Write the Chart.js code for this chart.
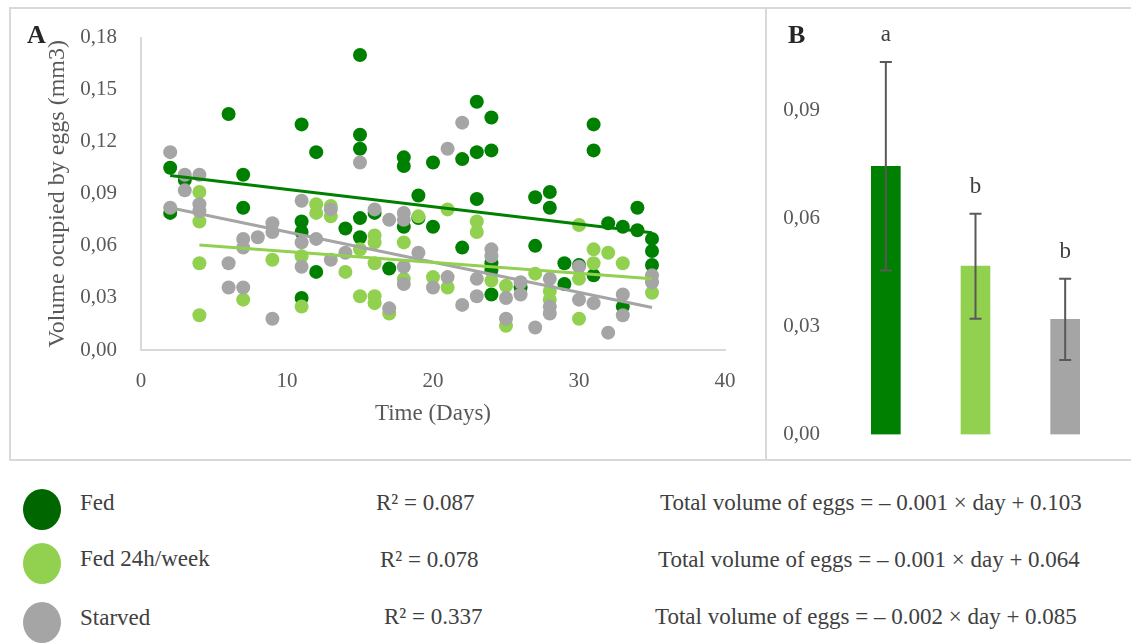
<!DOCTYPE html>
<html lang="en">
<head>
<meta charset="UTF-8">
<title>Volume occupied by eggs</title>
<script src="https://cdn.jsdelivr.net/npm/chart.js"></script>
<style>
* { margin: 0; padding: 0; box-sizing: border-box; }
body {
	width: 1131px; height: 643px; position: relative; overflow: hidden;
	background: #fff; font-family: 'Liberation Serif', 'DejaVu Serif', serif; color: #262626;
}
.panel { position: absolute; border: 2px solid #d9d9d9; }
#panelA { left: 9px; top: 7px; width: 758px; height: 454px; }
#panelB { left: 765px; top: 7px; width: 400px; height: 454px; }
canvas { position: absolute; }
.tag { position: absolute; font-weight: bold; font-size: 26px; line-height: 1; color: #262626; }
.dot { position: absolute; width: 38px; height: 41px; border-radius: 50%; }
.leg { position: absolute; font-size: 23px; line-height: 1; white-space: nowrap; color: #404040; }
</style>
</head>
<body>
<div class="panel" id="panelA"></div>
<div class="panel" id="panelB"></div>
<canvas id="chartA" width="756" height="451" style="left:10px;top:9px"></canvas>
<canvas id="chartB" width="365" height="451" style="left:766px;top:9px"></canvas>
<div class="tag" style="left:27px;top:22px">A</div>
<div class="tag" style="left:788px;top:22px">B</div>

<div class="dot" style="left:23px;top:489px;background:#006600"></div>
<div class="dot" style="left:23px;top:543px;background:#92d050"></div>
<div class="dot" style="left:23px;top:602px;background:#a5a5a5"></div>
<div class="leg" style="left:80px;top:491px">Fed</div>
<div class="leg" style="left:80px;top:547px">Fed 24h/week</div>
<div class="leg" style="left:80px;top:606px">Starved</div>
<div class="leg" style="left:376px;top:491px">R² = 0.087</div>
<div class="leg" style="left:380px;top:548px">R² = 0.078</div>
<div class="leg" style="left:384px;top:605px">R² = 0.337</div>
<div class="leg" style="left:660px;top:491px">Total volume of eggs = – 0.001 × day + 0.103</div>
<div class="leg" style="left:658px;top:548px">Total volume of eggs = – 0.001 × day + 0.064</div>
<div class="leg" style="left:655px;top:605px">Total volume of eggs = – 0.002 × day + 0.085</div>

<script>
// Panel A - egg volume per female over time
const fedDays = [2,2,3,6,7,7,11,11,11,11,12,12,14,15,15,15,15,15,16,17,18,18,18,19,19,20,20,22,22,23,23,23,24,24,24,24,24,26,27,27,28,28,29,29,30,31,31,31,32,33,33,34,34,35,35,35];
const fedVol = [.105,.079,.098,.136,.101,.082,.130,.074,.068,.030,.114,.045,.070,.170,.124,.116,.076,.065,.079,.047,.111,.106,.071,.089,.076,.108,.071,.110,.059,.143,.114,.087,.134,.115,.050,.046,.032,.036,.088,.060,.091,.082,.050,.038,.049,.130,.115,.043,.073,.071,.025,.082,.069,.064,.057,.049];

const weekDays = [4,4,4,4,7,9,11,11,12,12,13,13,14,15,15,16,16,16,16,16,17,18,18,19,20,21,21,23,23,24,25,25,27,28,28,30,30,30,31,31,32,33,35];
const weekVol = [.091,.074,.050,.020,.029,.052,.054,.025,.084,.079,.083,.077,.045,.058,.031,.066,.062,.050,.031,.027,.021,.062,.041,.077,.042,.081,.036,.074,.068,.040,.037,.014,.044,.034,.029,.072,.041,.018,.058,.050,.056,.050,.033];

const starvedDays = [2,2,3,3,4,4,4,6,6,7,7,7,8,9,9,9,11,11,11,12,13,13,14,15,16,17,17,18,18,18,18,19,20,21,21,22,22,23,23,24,24,25,25,26,26,27,28,28,28,30,30,31,32,33,33,35,35];
const starvedVol = [.114,.082,.101,.092,.101,.084,.080,.050,.036,.064,.059,.036,.065,.073,.068,.018,.086,.062,.048,.064,.081,.052,.056,.108,.081,.075,.024,.079,.075,.048,.038,.056,.036,.116,.042,.131,.026,.041,.031,.058,.054,.030,.018,.039,.032,.013,.041,.025,.021,.048,.029,.027,.010,.032,.020,.043,.039];

// trend line ends
const fedTrendDays = [2, 35];
const fedTrend = [0.1005, 0.0675];
const weekTrendDays = [4, 35];
const weekTrend = [0.0605, 0.041];
const starvedTrendDays = [2, 35];
const starvedTrend = [0.082, 0.0245];

// Panel B - mean volume per treatment
const groups = ['Fed', 'Fed 24h/week', 'Starved'];
const meanVol = [0.0746, 0.0468, 0.032];
const errVol = [0.029, 0.0146, 0.0113];
const letters = ['a', 'b', 'b'];

const SERIF = "'Liberation Serif', 'DejaVu Serif', serif";
const DARK = '#008000', LIGHT = '#92d050', GREY = '#a5a5a5';
const comma = v => v.toFixed(2).replace('.', ',');
const pts = (d, v) => d.map((x, i) => ({x: x, y: v[i]}));

function scatterSet(label, d, v, col, order) {
	return {type: 'scatter', label: label, data: pts(d, v), backgroundColor: col, borderColor: col,
		pointRadius: 7, pointBorderWidth: 0, pointHoverRadius: 7, order: order};
}
function trendSet(d, v, col, order) {
	return {type: 'line', data: pts(d, v), borderColor: col, borderWidth: 3, pointRadius: 0, fill: false, order: order};
}

new Chart(document.getElementById('chartA'), {
	type: 'scatter',
	data: {
		datasets: [
			trendSet(fedTrendDays, fedTrend, DARK, 0),
			trendSet(weekTrendDays, weekTrend, LIGHT, 1),
			trendSet(starvedTrendDays, starvedTrend, GREY, 2),
			scatterSet('Starved', starvedDays, starvedVol, GREY, 3),
			scatterSet('Fed 24h/week', weekDays, weekVol, LIGHT, 4),
			scatterSet('Fed', fedDays, fedVol, DARK, 5)
		]
	},
	options: {
		responsive: false, animation: false, devicePixelRatio: 1,
		layout: {autoPadding: false, padding: {top: 21, right: 41, bottom: 0, left: 0}},
		plugins: {legend: {display: false}, tooltip: {enabled: false}},
		scales: {
			x: {
				type: 'linear', min: 0, max: 40,
				ticks: {stepSize: 10, color: '#595959', font: {family: SERIF, size: 21}, padding: 11},
				grid: {display: false},
				border: {color: '#d9d9d9', width: 2},
				title: {display: true, text: 'Time (Days)', color: '#595959', font: {family: SERIF, size: 23}, padding: {top: 0, bottom: 32}},
				afterFit: s => { s.height = 110; }
			},
			y: {
				min: 0, max: 0.18,
				ticks: {stepSize: 0.03, color: '#595959', font: {family: SERIF, size: 21}, padding: 16, callback: v => comma(v)},
				grid: {display: false},
				border: {color: '#d9d9d9', width: 2},
				title: {display: true, text: 'Volume ocupied by eggs (mm3)', color: '#595959', font: {family: SERIF, size: 24}, padding: {top: 33, bottom: 0}},
				afterFit: s => { s.width = 131; }
			}
		}
	}
});

// error bars and significance letters for panel B
const errorBars = {
	id: 'errorBars',
	afterDatasetsDraw(chart) {
		const ctx = chart.ctx, y = chart.scales.y;
		const meta = chart.getDatasetMeta(0);
		ctx.save();
		meta.data.forEach((bar, i) => {
			const top = y.getPixelForValue(meanVol[i] + errVol[i]);
			const bot = y.getPixelForValue(meanVol[i] - errVol[i]);
			ctx.strokeStyle = '#595959';
			ctx.lineWidth = 2;
			ctx.beginPath();
			ctx.moveTo(bar.x, top); ctx.lineTo(bar.x, bot);
			ctx.moveTo(bar.x - 6, top); ctx.lineTo(bar.x + 6, top);
			ctx.moveTo(bar.x - 6, bot); ctx.lineTo(bar.x + 6, bot);
			ctx.stroke();
			ctx.fillStyle = '#404040';
			ctx.font = '23px ' + SERIF;
			ctx.textAlign = 'center';
			ctx.textBaseline = 'middle';
			ctx.fillText(letters[i], bar.x, top - 27);
		});
		ctx.restore();
	}
};

new Chart(document.getElementById('chartB'), {
	type: 'bar',
	data: {
		labels: groups,
		datasets: [{data: meanVol, backgroundColor: [DARK, LIGHT, GREY], barThickness: 29}]
	},
	options: {
		responsive: false, animation: false, devicePixelRatio: 1,
		layout: {autoPadding: false, padding: {top: 30, right: 21, bottom: 24, left: 0}},
		plugins: {legend: {display: false}, tooltip: {enabled: false}},
		scales: {
			x: {display: false},
			y: {
				min: 0, max: 0.11,
				ticks: {stepSize: 0.03, color: '#595959', font: {family: SERIF, size: 21}, padding: 13, callback: v => comma(v)},
				afterBuildTicks: s => {
					s.ticks = s.ticks.filter(t => Math.abs(t.value / 0.03 - Math.round(t.value / 0.03)) < 1e-6);
				},
				grid: {display: false},
				border: {display: false},
				afterFit: s => { s.width = 75; }
			}
		}
	},
	plugins: [errorBars]
});
</script>
</body>
</html>
